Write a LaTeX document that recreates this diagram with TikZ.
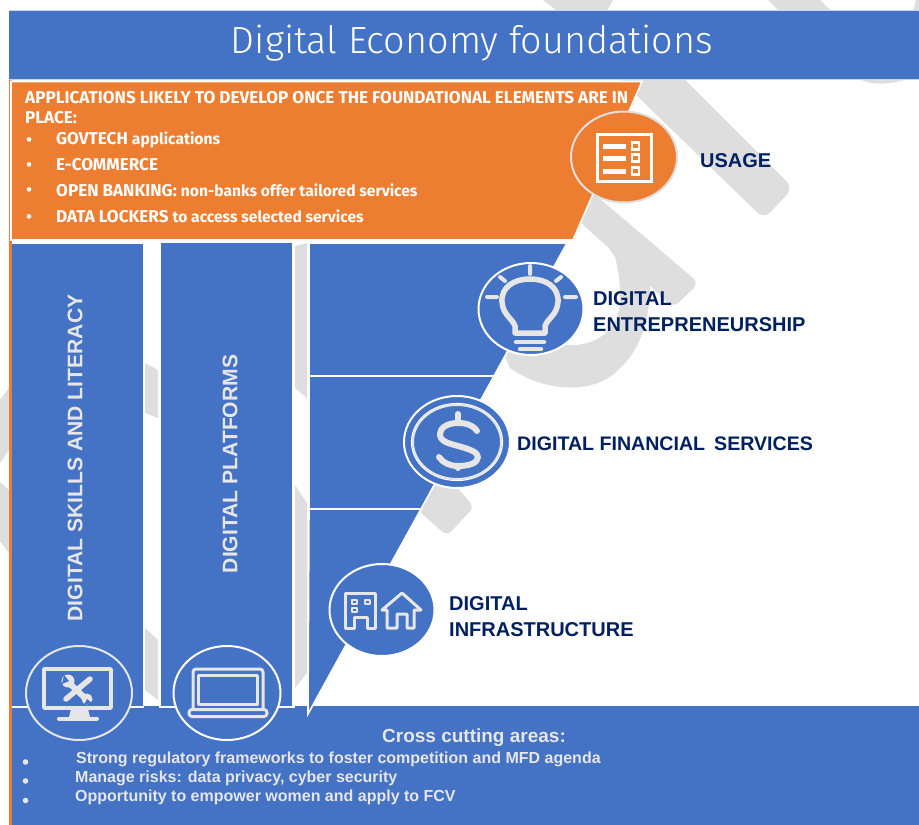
\documentclass[tikz,border=0pt]{standalone}
\usepackage{fontspec}
\setmainfont{Liberation Sans}
\newfontfamily\titlef{Fira Sans Light}
\newfontfamily\slabf{Fira Sans}
\definecolor{bl}{HTML}{4472C4}
\definecolor{og}{HTML}{ED7D31}
\definecolor{gb}{HTML}{DEDEDE}
\definecolor{navy}{HTML}{002060}
\definecolor{ic}{HTML}{E6E6E6}
\newcommand{\capsz}{\fontsize{17.1}{18}\selectfont}
\newcommand{\lowsz}{\fontsize{15.6}{18}\selectfont}
\tikzset{
  lbl/.style={anchor=west,inner sep=0pt,text=navy,font=\fontsize{20}{20}\selectfont\bfseries},
  applbl/.style={anchor=west,inner sep=0pt,text=white,font=\slabf\capsz\bfseries},
  bul/.style={anchor=center,inner sep=0pt,text=white,font=\fontsize{17}{17}\selectfont},
  crosslbl/.style={anchor=west,inner sep=0pt,text=ic,font=\fontsize{16}{16}\selectfont\bfseries},
  vert/.style={anchor=center,inner sep=0pt,text=ic,rotate=90,font=\fontsize{21.1}{22}\selectfont\bfseries},
  wm/.style={fill=gb,draw=none},
  blk/.style={fill=bl,draw=white,line width=1.6pt},
  icon/.style={draw=ic,line width=3pt,line join=round,line cap=round},
  disc/.style={fill=bl,draw=white,line width=2pt}
}
\begin{document}
\begin{tikzpicture}[x=1pt,y=-1pt]
\useasboundingbox (0,0) rectangle (919,825);
\fill[white] (0,0) rectangle (919,825);
\begin{scope}
\clip (0,0) rectangle (919,825);
% watermark
\path[wm] (543,0) -- (613,0) -- (607,11) -- (557,11) -- cycle;
\path[wm] (768,0) -- (820,0) -- (831,11) -- (779,11) -- cycle;
\path[wm] (916,0) -- (919,0) -- (919,11) -- (913,11) -- cycle;
\path[wm,rounded corners=9pt] (600,60) -- (665,60) -- (793,188) -- (764,219) -- cycle;
\path[wm] (858,78) .. controls (870,86) and (895,86) .. (919,74) -- (919,70) -- (858,70) -- cycle;
\path[wm,rounded corners=8pt] (560,165) -- (699,283) -- (673,308) -- (640,276) -- (570,213) -- cycle;
\path[wm] (600,235) -- (660,290) -- (650,285)
  .. controls (650,320) and (640,350) .. (620,368)
  .. controls (600,392) and (550,396) .. (510,368)
  -- (500,345) -- (573,345)
  .. controls (600,345) and (622,325) .. (620,295)
  .. controls (620,280) and (618,268) .. (615,257) -- cycle;
\path[wm,rounded corners=6pt] (425,450) -- (474,507) -- (447,536) -- (419,511) -- (395,480) -- cycle;
\path[wm] (145,363) -- (158,370) -- (158,418) -- (145,413) -- cycle;
\path[wm] (145,628) -- (158,640) -- (158,700) -- (145,690) -- cycle;
\path[wm] (295,246) -- (307,243) -- (307,398) -- (295,388) -- cycle;
\path[wm] (295,485) -- (307,503) -- (307,673) -- (295,688) -- cycle;
\path[wm] (0,400) -- (9,388) -- (9,450) -- (0,463) -- cycle;
\path[wm] (0,482) -- (9,490) -- (9,553) -- (0,541) -- cycle;
\end{scope}
% header
\fill[bl] (9,10) rectangle (919,79);
\draw[white!70!bl,line width=.7pt] (9,10) -- (919,10) (9,79.5) -- (919,79.5);
\node[inner sep=0pt,text=white,font=\titlef\fontsize{37.8}{38}\selectfont] (title) at (472,43) {Digital Economy foundations};
% bar and orange stripe
\fill[og] (9,80) rectangle (11.5,825);
\fill[bl] (11.5,706) rectangle (919,825);
% orange block
\path[fill=og,draw=white,line width=1.6pt] (11,81.5) -- (642,81.5) -- (573,240) -- (11,240) -- cycle;
% columns
\path[blk,draw=none] (12,244) rectangle (143,706);
\path[blk,draw=none] (161,243) rectangle (292,706);
\draw[white,line width=1.8pt] (11.5,707) -- (144,707) (159,707) -- (295,707);
% stepped triangle
\path[blk] (309,243) -- (567,243) -- (494,376) -- (309,376) -- cycle;
\path[blk] (309,376) -- (494,376) -- (421,509) -- (309,509) -- cycle;
\path[blk] (309,509) -- (421,509) -- (308,714) -- cycle;
% discs
\path[fill=og,draw=gb,line width=2pt] (624,157) ellipse [x radius=53,y radius=45.5];
\path[disc] (531,309) ellipse [x radius=52.5,y radius=46];
\path[disc] (457,442) ellipse [x radius=53,y radius=46];
\path[disc] (382,610) ellipse [x radius=52.5,y radius=46];
\path[fill=bl,draw=ic,line width=2pt] (79,693) ellipse [x radius=53,y radius=47];
\path[disc] (227,693) ellipse [x radius=53.5,y radius=47];
% usage icon
\draw[white,line width=3pt] (597.5,134.5) rectangle (651.5,181.5);
\foreach \yy in {146,158,171}{
  \draw[white,line width=2.6pt] (632,\yy-3.5) rectangle (639,\yy+3.5);
  \draw[white,line width=5pt] (603,\yy) -- (626,\yy);
}
% bulb icon
\begin{scope}[icon]
\draw[line width=5.5pt,draw=ic] (515,333) -- (515,326) .. controls (512,318) and (503,315) .. (502,302)
  .. controls (501,287) and (514,279) .. (530,279) .. controls (546,279) and (559,287) .. (558,302)
  .. controls (557,315) and (548,318) .. (545,326) -- (545,333) -- cycle;
\draw[line width=4pt] (530,266) -- (530,274) (500,277) -- (505,281) (561,277) -- (556,281)
  (487,297) -- (497,297) (565,297) -- (576,297);
\draw[line width=4.5pt] (516,342) -- (544,342) (520,349) -- (541,349);
\end{scope}
% dollar icon
\draw[white,line width=1.2pt] (457,442) ellipse [x radius=45.5,y radius=38.5];
\draw[ic,line width=2pt] (457,442) ellipse [x radius=44,y radius=37];
\begin{scope}[icon]
\draw[line width=6pt] (477,431) .. controls (472,424) and (465,423) .. (458,423)
  .. controls (447,423) and (440,428) .. (440,434) .. controls (440,441) and (447,443) .. (458,446)
  .. controls (469,449) and (478,452) .. (478,457) .. controls (478,463) and (469,466) .. (458,466)
  .. controls (450,466) and (443,463) .. (439,457);
\draw[line width=6pt] (458,414) -- (458,423) (458,466) -- (458,468);
\end{scope}
% infrastructure icon
\begin{scope}[icon]
\draw (345.5,628) -- (345.5,593.5) -- (375.5,593.5) -- (375.5,628) -- (367,628) -- (367,617) -- (354,617) -- (354,628) -- cycle;
\draw[line width=1.4pt] (352,600) rectangle (357,604) (365,600) rectangle (370,604) (352,608) rectangle (357,612);
\draw (387,628) -- (387,610) -- (382,610) -- (402,593) -- (421,610) -- (414,610) -- (414,628) -- (407,628) -- (407,614) -- (397,614) -- (397,628) -- cycle;
\end{scope}
% monitor icon
\begin{scope}[icon]
\draw[line width=3.5pt] (44,669) rectangle (111,708);
\fill[ic,draw=none] (71,709) -- (88,709) -- (90,717) -- (69,717) -- cycle;
\draw[line width=4pt] (59,718.5) -- (97,718.5);
\draw[line width=6pt] (68,682) -- (86,699);
\draw[line width=5.5pt] (90,679) -- (66,699);
\fill[ic,draw=none] (68,681) circle (6.5) (87,699) circle (5.5);
\fill[bl,draw=none] (64,675) -- (69,681) -- (62,684) -- cycle (92,703) -- (87,699) -- (84,705) -- cycle;
\end{scope}
% laptop icon
\begin{scope}[icon]
\draw[rounded corners=3pt] (193,709) -- (193,669) -- (263,669) -- (263,709);
\draw (198,675) rectangle (257,704);
\draw[rounded corners=3pt] (189,709.5) rectangle (267,716.5);
\end{scope}
% labels
\node[lbl] (usage) at (700,161) {USAGE};
\node[lbl] (ent1) at (593,299) {DIGITAL};
\node[lbl] (ent2) at (593,325) {ENTREPRENEURSHIP};
\node[lbl,font=\fontsize{19.6}{20}\selectfont\bfseries] (fin) at (517,444) {DIGITAL FINANCIAL\hspace{9pt}SERVICES};
\node[lbl] (inf1) at (449,604) {DIGITAL};
\node[lbl] (inf2) at (449,630) {INFRASTRUCTURE};
\node[vert] (skills) at (75,458) {DIGITAL SKILLS AND LITERACY};
\node[vert] (plat) at (230,464) {DIGITAL PLATFORMS};
% orange text
\node[applbl] (a0) at (25,97.5) {APPLICATIONS LIKELY TO DEVELOP ONCE THE FOUNDATIONAL ELEMENTS ARE IN};
\node[applbl] (a1) at (25,118) {PLACE:};
\node[bul] (b1) at (29,141.5) {•};
\node[bul] (b2) at (29,166.5) {•};
\node[bul] (b3) at (29,191.5) {•};
\node[bul] (b4) at (29,219) {•};
\node[applbl] (a2) at (56,140) {GOVTECH {\lowsz applications}};
\node[applbl] (a3) at (56,165) {E-COMMERCE};
\node[applbl] (a4) at (56,190) {OPEN BANKING: {\lowsz non-banks offer tailored services}};
\node[applbl] (a5) at (56,216) {DATA LOCKERS {\lowsz to access selected services}};
% cross cutting
\node[inner sep=0pt,text=ic,font=\fontsize{19}{19}\selectfont\bfseries] (cc) at (474,738) {Cross cutting areas:};
\fill[ic] (25.5,762) circle (2.8) (25.5,781) circle (2.8) (25.5,800.5) circle (2.8);
\node[crosslbl] (c1) at (76,759.5) {Strong regulatory frameworks to foster competition and MFD agenda};
\node[crosslbl] (c2) at (75,778.5) {Manage risks: data privacy, cyber security};
\node[crosslbl] (c3) at (75,797) {Opportunity to empower women and apply to FCV};
\end{tikzpicture}
\end{document}
